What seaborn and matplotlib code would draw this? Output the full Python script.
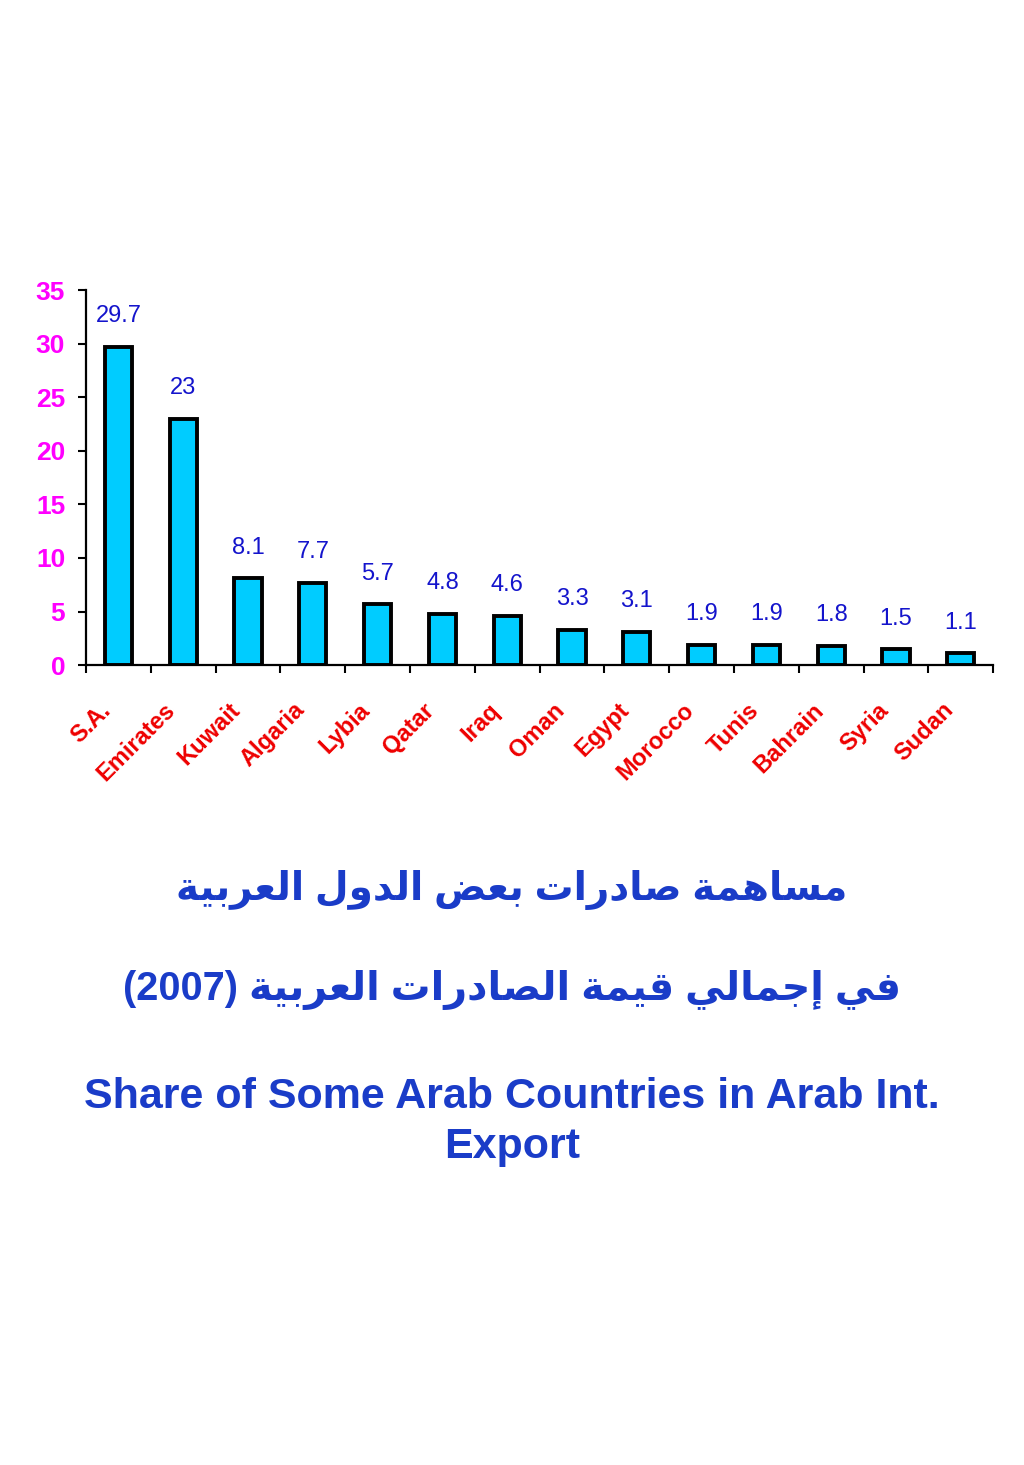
import matplotlib
matplotlib.use("Agg")
import matplotlib.pyplot as plt
import matplotlib.transforms as mtransforms
import seaborn as sns

countries = ["S.A.", "Emirates", "Kuwait", "Algaria", "Lybia", "Qatar", "Iraq",
             "Oman", "Egypt", "Morocco", "Tunis", "Bahrain", "Syria", "Sudan"]
shares = [29.7, 23, 8.1, 7.7, 5.7, 4.8, 4.6, 3.3, 3.1, 1.9, 1.9, 1.8, 1.5, 1.1]
y_ticks = [0, 5, 10, 15, 20, 25, 30, 35]

title_ar_1 = "مساهمة صادرات بعض الدول العربية"
title_ar_2 = "في إجمالي قيمة الصادرات العربية"
title_year = "(2007)"
title_en_1 = "Share of Some Arab Countries in Arab Int."
title_en_2 = "Export"

# presentation forms: isolated, final, initial, medial (None = does not join left)
FORMS = {
    "ا": ("\uFE8D", "\uFE8E", None, None),
    "إ": ("\uFE87", "\uFE88", None, None),
    "ب": ("\uFE8F", "\uFE90", "\uFE91", "\uFE92"),
    "ة": ("\uFE93", "\uFE94", None, None),
    "ت": ("\uFE95", "\uFE96", "\uFE97", "\uFE98"),
    "ج": ("\uFE9D", "\uFE9E", "\uFE9F", "\uFEA0"),
    "د": ("\uFEA9", "\uFEAA", None, None),
    "ر": ("\uFEAD", "\uFEAE", None, None),
    "س": ("\uFEB1", "\uFEB2", "\uFEB3", "\uFEB4"),
    "ص": ("\uFEB9", "\uFEBA", "\uFEBB", "\uFEBC"),
    "ض": ("\uFEBD", "\uFEBE", "\uFEBF", "\uFEC0"),
    "ع": ("\uFEC9", "\uFECA", "\uFECB", "\uFECC"),
    "ف": ("\uFED1", "\uFED2", "\uFED3", "\uFED4"),
    "ق": ("\uFED5", "\uFED6", "\uFED7", "\uFED8"),
    "ل": ("\uFEDD", "\uFEDE", "\uFEDF", "\uFEE0"),
    "م": ("\uFEE1", "\uFEE2", "\uFEE3", "\uFEE4"),
    "ه": ("\uFEE9", "\uFEEA", "\uFEEB", "\uFEEC"),
    "و": ("\uFEED", "\uFEEE", None, None),
    "ي": ("\uFEF1", "\uFEF2", "\uFEF3", "\uFEF4"),
}


def shape_arabic(s):
    out = []
    for i, ch in enumerate(s):
        if ch not in FORMS:
            out.append(ch)
            continue
        prev = s[i - 1] if i > 0 else ""
        nxt = s[i + 1] if i + 1 < len(s) else ""
        join_prev = prev in FORMS and FORMS[prev][2] is not None
        join_next = FORMS[ch][2] is not None and nxt in FORMS
        iso, fin, ini, med = FORMS[ch]
        if join_prev and join_next:
            out.append(med)
        elif join_prev:
            out.append(fin)
        elif join_next:
            out.append(ini)
        else:
            out.append(iso)
    return "".join(out)[::-1]


sns.set_style("white")
plt.rcParams["font.family"] = ["Liberation Sans", "DejaVu Sans"]

fig = plt.figure(figsize=(10.24, 14.65), dpi=100)
ax = fig.add_axes([0.084, 0.546, 0.886, 0.256])

sns.barplot(x=countries, y=shares, color="#00CCFF", edgecolor="black",
            linewidth=2.8, width=0.42, saturation=1, ax=ax)
ax.bar_label(ax.containers[0], labels=[f"{v:g}" for v in shares], padding=14,
             color="#1414CC", fontsize=17)

ax.set_xlim(-0.5, len(countries) - 0.5)
ax.set_ylim(0, 35)
ax.set_yticks(y_ticks)
ax.set_yticklabels([str(t) for t in y_ticks], color="#FF00FF", fontsize=19,
                   fontweight="bold")
ax.set_xticks(range(len(countries)))
ax.set_xticklabels(countries, rotation=45, ha="right", rotation_mode="anchor",
                   color="#EE0000", fontsize=17, fontweight="bold")
ax.set_xticks([i - 0.5 for i in range(len(countries) + 1)], minor=True)
ax.tick_params(axis="x", which="major", length=0, pad=24)
ax.tick_params(axis="x", which="minor", length=6, width=1.5, color="black",
               direction="out", bottom=True)
ax.tick_params(axis="y", length=6, width=1.5, color="black", direction="out",
               left=True, pad=9)
shift = mtransforms.ScaledTranslation(-14 / 72, 0, fig.dpi_scale_trans)
for lab in ax.get_xticklabels():
    lab.set_transform(lab.get_transform() + shift)
ax.set_xlabel("")
ax.set_ylabel("")
sns.despine(ax=ax)
for side in ["left", "bottom"]:
    ax.spines[side].set_linewidth(1.6)
    ax.spines[side].set_color("black")

title_color = "#1A3CC8"
fig.text(0.5, 0.3925, shape_arabic(title_ar_1), ha="center", va="center",
         fontsize=28, fontweight="bold", color=title_color)
fig.text(0.5, 0.324, title_year + " " + shape_arabic(title_ar_2), ha="center",
         va="center", fontsize=28.5, fontweight="bold", color=title_color)
fig.text(0.5, 0.2512, title_en_1, ha="center", va="center", fontsize=31,
         fontweight="bold", color=title_color)
fig.text(0.5, 0.2171, title_en_2, ha="center", va="center", fontsize=31,
         fontweight="bold", color=title_color)

fig.savefig("out.png", dpi=100)
